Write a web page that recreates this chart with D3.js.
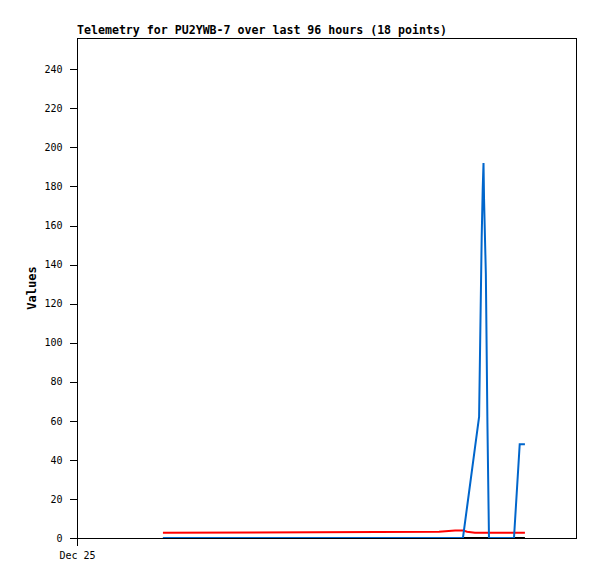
<!DOCTYPE html>
<html><head><meta charset="utf-8">
<script src="https://cdn.jsdelivr.net/npm/d3@7"></script>
<style>body{margin:0;background:#fff}svg{display:block}</style>
</head><body>
<svg id="c" width="597" height="579"></svg>
<script>
const title = "Telemetry for PU2YWB-7 over last 96 hours (18 points)";
const yLabel = "Values";
const startLabel = "Dec 25";
// hours since start of window
const hours   = [16.5, 69.5, 72.6, 74.1, 74.9, 76.4, 77.2, 77.7, 77.9, 78.05, 78.15, 78.5, 78.8, 79.1, 81.5, 83.9, 85.0, 86.0];
const blueVals = [0, 0, 0, 0, 16, 46, 62, 154, 179, 192, 174, 135, 59, 0, 0, 0, 48, 48];
const redVals  = [2.7, 3.2, 3.9, 3.9, 3.2, 2.7, 2.7, 2.7, 2.7, 2.7, 2.7, 2.7, 2.7, 2.7, 2.7, 2.7, 2.7, 2.7];
const blackVals= [0, 0, 0, 0, 0, 0, 0, 0, 0, 0, 0, 0, 0, 0, 0, 0, 0, 0];
const yTicks = [0, 20, 40, 60, 80, 100, 120, 140, 160, 180, 200, 220, 240];
const yMax = 256;
const windowHours = 96;

const svg = d3.select("#c");
const L = 77, R = 577, T = 38, B = 538;
const x = d3.scaleLinear().domain([0, windowHours]).range([L, R]);
const y = d3.scaleLinear().domain([0, yMax]).range([B, T]);
const mono = "'DejaVu Sans Mono', monospace";

svg.append("text").attr("x", L).attr("y", 34).attr("font-family", mono)
  .attr("font-weight", "bold").attr("font-size", 11.6)
  .attr("fill", "#000").text(title);

// series
const series = [
  {vals: blackVals, color: "#000000"},
  {vals: redVals, color: "#ff0000"},
  {vals: blueVals, color: "#0066cc"}
];
const line = d3.line().x(d => x(d[0])).y(d => y(d[1]));
series.forEach(s => {
  svg.append("path").datum(hours.map((h, i) => [h, s.vals[i]]))
    .attr("d", line).attr("fill", "none").attr("stroke", s.color)
    .attr("stroke-width", 2).attr("stroke-linejoin", "miter");
});

// frame
svg.append("rect").attr("x", L + 0.5).attr("y", T + 0.5).attr("width", R - L - 1).attr("height", B - T)
  .attr("fill", "none").attr("stroke", "#000").attr("stroke-width", 1).attr("shape-rendering", "crispEdges");

// y axis
const yAxis = d3.axisLeft(y).tickValues(yTicks).tickSize(8).tickPadding(7).tickFormat(d3.format("d"));
const ga = svg.append("g").attr("transform", `translate(${L + 0.5},0)`).call(yAxis);
ga.select(".domain").remove();
ga.selectAll("line").attr("stroke", "#000").attr("shape-rendering", "crispEdges");
ga.selectAll("text").attr("font-family", mono).attr("font-size", 10).attr("fill", "#000");

// x axis
const xAxis = d3.axisBottom(x).tickValues([0]).tickSize(7).tickPadding(6).tickFormat(() => startLabel);
const gx = svg.append("g").attr("transform", `translate(0,${B + 0.5})`).call(xAxis);
gx.select(".domain").remove();
gx.selectAll("line").attr("stroke", "#000").attr("shape-rendering", "crispEdges");
gx.selectAll("text").attr("font-family", mono).attr("font-size", 10).attr("fill", "#000");

svg.append("text").attr("transform", `translate(36,288) rotate(-90)`)
  .attr("text-anchor", "middle").attr("font-family", mono).attr("font-weight", "bold")
  .attr("font-size", 12).attr("fill", "#000").text(yLabel);
</script>
</body></html>
